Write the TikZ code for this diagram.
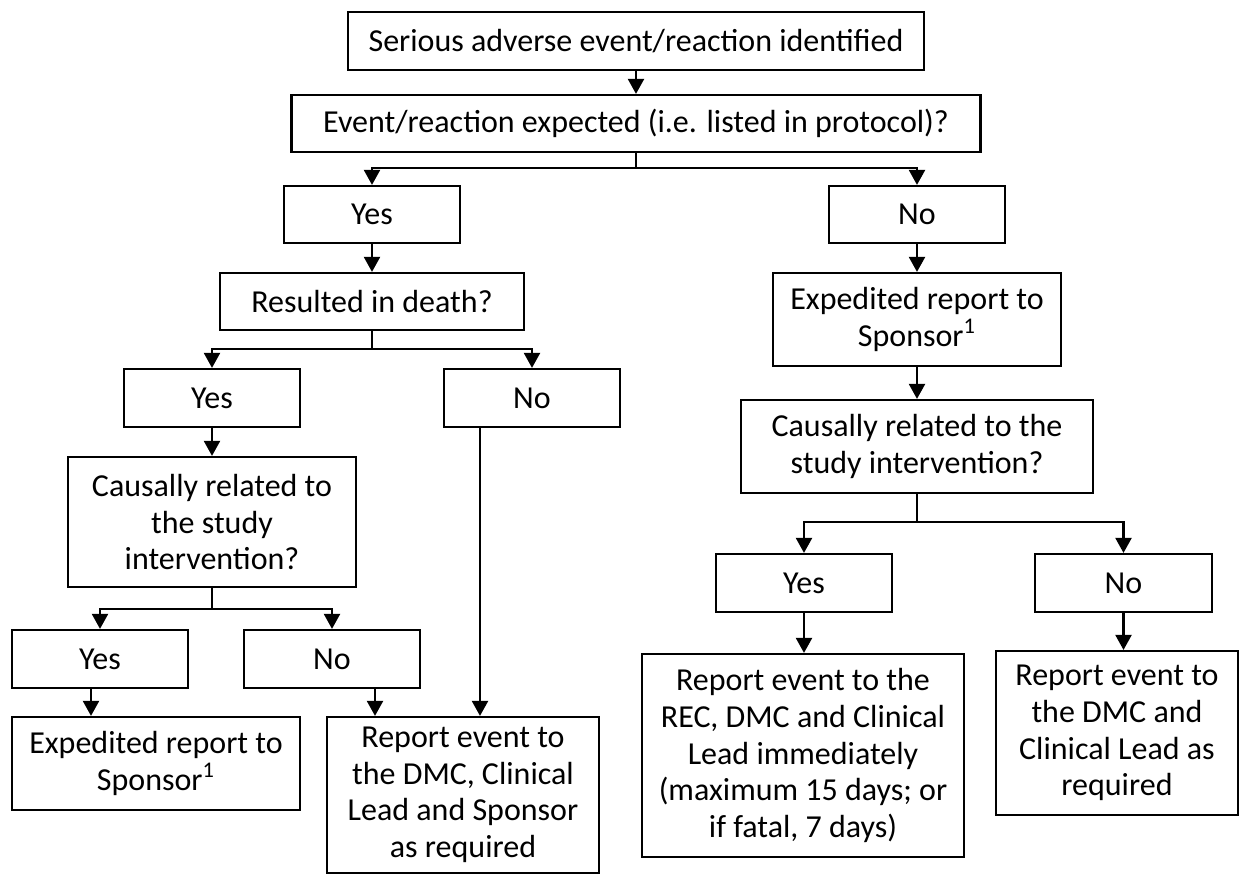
\documentclass[tikz,border=0pt]{standalone}
\usepackage{fontspec}
\setmainfont{Carlito}
\usetikzlibrary{arrows.meta}
\begin{document}
\begin{tikzpicture}[x=0.5pt,y=-0.5pt,
  box/.style={draw,line width=1.1pt,inner sep=0pt,align=center,font=\fontsize{16pt}{18.3pt}\selectfont},
  arr/.style={line width=1.1pt,-{Triangle[width=8pt,length=7.5pt]}},
  ln/.style={line width=1.1pt}]
\useasboundingbox (0,0) rectangle (1239,875);
\node[box,minimum width=288pt,minimum height=29pt] (b1) at (636,41) {Serious adverse event/reaction identified};
\node[box,minimum width=344.5pt,minimum height=28.5pt] (b2) at (636,123.5) {Event/reaction expected (i.e. listed in protocol)?};
\node[box,minimum width=88pt,minimum height=28.5pt] (yes1) at (372,214.5) {Yes};
\node[box,minimum width=88pt,minimum height=28.5pt] (no1) at (917,214.5) {No};
\node[box,minimum width=152pt,minimum height=28.5pt] (death) at (372,301.5) {Resulted in death?};
\node[box,minimum width=144pt,minimum height=46.5pt] (exp1) at (917,319.5) {Expedited report to\\Sponsor\textsuperscript{1}};
\node[box,minimum width=88pt,minimum height=29pt] (yes2) at (212,398) {Yes};
\node[box,minimum width=88pt,minimum height=29pt] (no2) at (532,398) {No};
\node[box,minimum width=144pt,minimum height=65pt] (caus1) at (212,522) {Causally related to\\the study\\intervention?};
\node[box,minimum width=176pt,minimum height=46.5pt] (caus2) at (917,446.5) {Causally related to the\\study intervention?};
\node[box,minimum width=88pt,minimum height=29pt] (yes3) at (100,659) {Yes};
\node[box,minimum width=88pt,minimum height=29pt] (no3) at (332,659) {No};
\node[box,minimum width=88pt,minimum height=29pt] (yes4) at (804,583) {Yes};
\node[box,minimum width=88.5pt,minimum height=29pt] (no4) at (1123.5,583) {No};
\node[box,minimum width=144pt,minimum height=46.5pt] (exp2) at (156,763.5) {Expedited report to\\Sponsor\textsuperscript{1}};
\node[box,minimum width=136pt,minimum height=78pt] (rep1) at (463,795) {Report event to\\the DMC, Clinical\\Lead and Sponsor\\as required};
\node[box,minimum width=161pt,minimum height=101.5pt] (rep2) at (803,755.5) {Report event to the\\REC, DMC and Clinical\\Lead immediately\\(maximum 15 days; or\\if fatal, 7 days)};
\node[box,minimum width=121pt,minimum height=82pt] (rep3) at (1117,733) {Report event to\\the DMC and\\Clinical Lead as\\required};
% connectors
\draw[arr] (b1.south) -- (b2.north);
\coordinate (j1) at (636,168);
\draw[ln] (b2.south) -- (j1);
\draw[arr] (j1) -| (yes1.north);
\draw[arr] (j1) -| (no1.north);
\draw[arr] (yes1.south) -- (death.north);
\draw[arr] (no1.south) -- (exp1.north);
\coordinate (j2) at (372,349);
\draw[ln] (death.south) -- (j2);
\draw[arr] (j2) -| (yes2.north);
\draw[arr] (j2) -| (no2.north);
\draw[arr] (yes2.south) -- (caus1.north);
\draw[arr] ([xshift=-26pt]no2.south) -- ([xshift=-26pt]no2.south |- rep1.north);
\coordinate (j3) at (212,609);
\draw[ln] (caus1.south) -- (j3);
\draw[arr] (j3) -| (yes3.north);
\draw[arr] (j3) -| (no3.north);
\draw[arr] ([xshift=-4.5pt]yes3.south) -- ([xshift=-4.5pt]yes3.south |- exp2.north);
\draw[arr] ([xshift=21.5pt]no3.south) -- ([xshift=21.5pt]no3.south |- rep1.north);
\draw[arr] (exp1.south) -- (caus2.north);
\coordinate (j4) at (917,522);
\draw[ln] (caus2.south) -- (j4);
\draw[arr] (j4) -| (yes4.north);
\draw[arr] (j4) -| (no4.north);
\draw[arr] (yes4.south) -- (yes4.south |- rep2.north);
\draw[arr] (no4.south) -- (no4.south |- rep3.north);
\end{tikzpicture}
\end{document}
